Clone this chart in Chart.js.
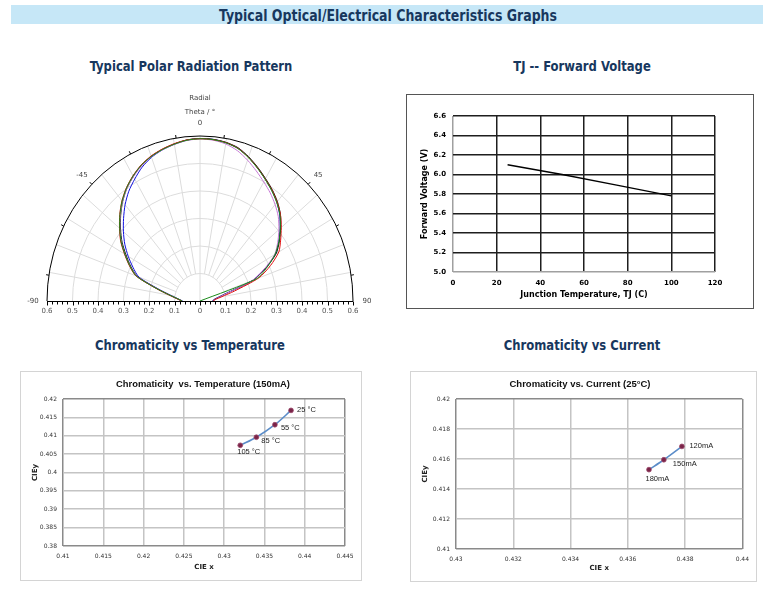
<!DOCTYPE html>
<html><head><meta charset="utf-8">
<script src="https://cdn.jsdelivr.net/npm/chart.js@4.4.1/dist/chart.umd.min.js"></script>
<style>
body{margin:0;width:779px;height:591px;background:#fff;position:relative;overflow:hidden;}
.bar{position:absolute;left:11px;top:5px;width:752px;height:19px;background:#c6e7f7;}
.hd{position:absolute;color:#17375e;font-family:"DejaVu Sans Condensed","Liberation Sans",sans-serif;font-weight:bold;white-space:nowrap;transform:translate(-50%,-50%) scaleX(0.89);}
.box{position:absolute;box-sizing:border-box;}
canvas{position:absolute;}
</style></head><body>
<div class="bar"></div>
<div class="hd" style="left:388px;top:15px;font-size:16px;transform:translate(-50%,-50%) scaleX(0.87);">Typical Optical/Electrical Characteristics Graphs</div>
<div class="hd" style="left:191px;top:66px;font-size:14.5px;">Typical Polar Radiation Pattern</div>
<div class="hd" style="left:582px;top:66px;font-size:14.5px;">TJ -- Forward Voltage</div>
<div class="hd" style="left:190px;top:345px;font-size:14.5px;">Chromaticity vs Temperature</div>
<div class="hd" style="left:582px;top:345px;font-size:14.5px;">Chromaticity vs Current</div>

<div class="box" style="left:406px;top:94px;width:348px;height:215px;border:1px solid #555;"></div>
<div class="box" style="left:20px;top:371px;width:342px;height:210px;border:1px solid #d4d4d4;"></div>
<div class="box" style="left:410px;top:371px;width:347px;height:211px;border:1px solid #d4d4d4;"></div>

<canvas id="polar" width="400" height="245" style="left:0;top:80px;"></canvas>
<canvas id="fv" width="346" height="213" style="left:407px;top:95px;"></canvas>
<canvas id="ct" width="340" height="208" style="left:21px;top:372px;"></canvas>
<canvas id="cc" width="345" height="209" style="left:411px;top:372px;"></canvas>

<script>
// ---------- Polar radiation pattern data (theta in degrees, relative radial intensity) ----------
const polarTheta = [-90,-85,-80,-75,-70,-65,-60,-55,-50,-45,-40,-35,-30,-25,-20,-15,-10,-5,0,5,10,15,20,25,30,35,40,45,50,55,60,65,70,75,80,85,90];
const polarBlack  = [0.072,0.088,0.118,0.175,0.262,0.300,0.335,0.373,0.407,0.440,0.472,0.500,0.523,0.544,0.560,0.571,0.580,0.588,0.591,0.590,0.586,0.577,0.558,0.536,0.514,0.494,0.472,0.446,0.413,0.380,0.345,0.285,0.222,0.108,0.072,0.055,0.050];
const polarRed    = [0.070,0.090,0.122,0.180,0.268,0.306,0.342,0.380,0.412,0.445,0.476,0.503,0.526,0.546,0.561,0.572,0.581,0.588,0.590,0.589,0.585,0.575,0.556,0.534,0.512,0.492,0.470,0.446,0.416,0.386,0.357,0.305,0.245,0.140,0.085,0.060,0.052];
const polarGreen  = [0.070,0.087,0.120,0.178,0.266,0.304,0.340,0.378,0.411,0.444,0.475,0.502,0.525,0.545,0.559,0.570,0.579,0.587,0.590,0.589,0.584,0.574,0.555,0.533,0.511,0.490,0.468,0.443,0.411,0.378,0.340,0.290,0.235,0,null,null,null];
const polarBlue   = [0.068,0.085,0.115,0.170,0.255,0.290,0.325,0.360,0.392,0.424,0.457,0.487,0.512,0.537,0.556,0.569,0.579,0.587,0.591,0.590,0.585,0.575,0.556,0.534,0.512,0.491,0.469,0.442,0.410,0.377,0.342,0.283,0.220,0.106,0.070,0.054,0.050];
const polarViolet = [0.074,0.090,0.120,0.177,0.264,0.304,0.340,0.377,0.410,0.442,0.473,0.500,0.522,0.542,0.558,0.569,0.578,0.586,0.589,0.587,0.580,0.566,0.545,0.522,0.500,0.480,0.458,0.434,0.404,0.372,0.338,0.280,0.218,0.110,0.075,0.058,0.052];
const polarRings = [0.1,0.2,0.3,0.4,0.5];
const polarSpokes = [-80,-70,-60,-50,-40,-30,-20,-10,0,10,20,30,40,50,60,70,80];
const polarArcTicks = [-81,-63,-45,-27,-9,9,27,45,63,81];
const polarRadialTicks = [-0.6,-0.5,-0.4,-0.3,-0.2,-0.1,0,0.1,0.2,0.3,0.4,0.5,0.6];
const polarAngleLabels = [-90,-45,0,45,90];

// ---------- Forward voltage vs junction temperature ----------
const fvTemp = [25,50,75,100];
const fvVolt = [6.10,6.00,5.89,5.78];
const fvXTicks = [0,20,40,60,80,100,120];
const fvYTicks = [5.0,5.2,5.4,5.6,5.8,6.0,6.2,6.4,6.6];

// ---------- Chromaticity vs temperature (150mA) ----------
const ctLabels = ['25 °C','55 °C','85 °C','105 °C'];
const ctCieX = [0.4383,0.4363,0.4340,0.4320];
const ctCieY = [0.4169,0.4130,0.4096,0.4074];
const ctXTicks = [0.41,0.415,0.42,0.425,0.43,0.435,0.44,0.445];
const ctYTicks = [0.38,0.385,0.39,0.395,0.4,0.405,0.41,0.415,0.42];

// ---------- Chromaticity vs current (25°C) ----------
const ccLabels = ['120mA','150mA','180mA'];
const ccCieX = [0.43789,0.43726,0.43674];
const ccCieY = [0.41684,0.41595,0.41529];
const ccXTicks = [0.43,0.432,0.434,0.436,0.438,0.44];
const ccYTicks = [0.41,0.412,0.414,0.416,0.418,0.42];

Chart.defaults.animation = false;
Chart.defaults.font.family = '"DejaVu Sans", sans-serif';

// ===== Polar =====
function polarPoints(arr){
  return polarTheta.map((t,i)=>{
    const r = arr[i];
    if(r===null) return null;
    const a = t*Math.PI/180;
    return {x:r*Math.sin(a), y:r*Math.cos(a)};
  }).filter(p=>p!==null);
}
const polarGridPlugin = {
  id:'polarGrid',
  beforeDatasetsDraw(chart){
    const {ctx, scales:{x,y}} = chart;
    const cx = x.getPixelForValue(0), cy = y.getPixelForValue(0);
    const rx = r => x.getPixelForValue(r)-cx;
    const ry = r => cy-y.getPixelForValue(r);
    const pt = (deg,r)=>{const a=deg*Math.PI/180;return [x.getPixelForValue(r*Math.sin(a)), y.getPixelForValue(r*Math.cos(a))];};
    ctx.save();
    ctx.lineWidth = 1; ctx.strokeStyle = '#dcdcdc';
    polarRings.forEach(r=>{ctx.beginPath();ctx.ellipse(cx,cy,rx(r),ry(r),0,Math.PI,2*Math.PI);ctx.stroke();});
    polarSpokes.forEach(d=>{
      const a = pt(d, d===0?0:0.1), b = pt(d,0.6);
      ctx.beginPath();ctx.moveTo(a[0],a[1]);ctx.lineTo(b[0],b[1]);ctx.stroke();
    });
    // outer arc
    ctx.strokeStyle = '#000'; ctx.lineWidth = 1;
    ctx.beginPath();ctx.ellipse(cx,cy,rx(0.6),ry(0.6),0,Math.PI,2*Math.PI);ctx.stroke();
    polarArcTicks.forEach(d=>{
      const a = pt(d,0.6), b = pt(d,0.611);
      ctx.beginPath();ctx.moveTo(a[0],a[1]);ctx.lineTo(b[0],b[1]);ctx.stroke();
    });
    // baseline
    const y0 = Math.round(cy)+0.5;
    ctx.beginPath();ctx.moveTo(x.getPixelForValue(-0.6),y0);ctx.lineTo(x.getPixelForValue(0.6),y0);ctx.stroke();
    for(let k=-30;k<=30;k++){
      const v = k*0.02, px = Math.round(x.getPixelForValue(v))+0.5;
      const len = (k%5===0)?4:3;
      ctx.beginPath();ctx.moveTo(px,y0);ctx.lineTo(px,y0+len);ctx.stroke();
    }
    ctx.fillStyle = '#555'; ctx.font = '7px "DejaVu Sans"'; ctx.textAlign='center'; ctx.textBaseline='middle';
    polarRadialTicks.forEach(v=>{
      ctx.fillText(String(Math.abs(v)), x.getPixelForValue(v), y0+10);
    });
    ctx.fillStyle = '#444';
    polarAngleLabels.forEach(d=>{
      const p = pt(d,0.655);
      ctx.fillText(String(d), p[0], p[1]+(Math.abs(d)===90?0:2));
    });
    const top = pt(0,0.6);
    ctx.fillText('Theta / °', top[0], top[1]-24);
    ctx.fillText('Radial', top[0], top[1]-38);
    ctx.restore();
  }
};
new Chart(document.getElementById('polar'),{
  type:'scatter',
  data:{datasets:[
    {data:polarPoints(polarGreen), borderColor:'#1a8a1a'},
    {data:polarPoints(polarRed), borderColor:'#e01010'},
    {data:polarPoints(polarViolet), borderColor:'#c77ad6'},
    {data:polarPoints(polarBlack), borderColor:'#101010'},
    {data:polarPoints(polarBlue), borderColor:'#1010e0'}
  ].map(d=>Object.assign(d,{showLine:true,pointRadius:0,borderWidth:1,tension:0.25,fill:false}))},
  options:{
    responsive:false,
    layout:{padding:{left:47,right:47,top:56,bottom:24}},
    plugins:{legend:{display:false},tooltip:{enabled:false}},
    scales:{
      x:{type:'linear',min:-0.6,max:0.6,display:false},
      y:{type:'linear',min:0,max:0.6,display:false}
    }
  },
  plugins:[polarGridPlugin]
});

// ===== Forward voltage =====
function setTicks(arr){return function(scale){scale.ticks = arr.map(v=>({value:v}));};}
new Chart(document.getElementById('fv'),{
  type:'scatter',
  data:{datasets:[{data:fvTemp.map((t,i)=>({x:t,y:fvVolt[i]})),showLine:true,pointRadius:0,borderColor:'#000',borderWidth:1.3,tension:0}]},
  options:{
    responsive:false,
    layout:{padding:{left:0,right:38,top:21,bottom:0}},
    plugins:{legend:{display:false},tooltip:{enabled:false}},
    scales:{
      x:{type:'linear',min:0,max:120,afterBuildTicks:setTicks(fvXTicks),
         afterFit(s){s.height=36;},
         border:{display:false},
         grid:{drawTicks:false,lineWidth:1.5,color:c=>c.tick&&c.tick.value===0?'#a0a0a0':'#1e1e1e'},
         ticks:{padding:7,color:'#000',font:{size:7,weight:'bold'},maxRotation:0},
         title:{display:true,text:'Junction Temperature, TJ (C)',color:'#000',font:{size:8,weight:'bold'},padding:{top:0,bottom:8}}},
      y:{type:'linear',min:5.0,max:6.6,afterBuildTicks:setTicks(fvYTicks),
         afterFit(s){s.width=46;},
         border:{display:false},
         grid:{drawTicks:false,lineWidth:1.5,color:c=>c.tick&&Math.abs(c.tick.value-5)<1e-6?'#a0a0a0':'#1e1e1e'},
         ticks:{padding:7,color:'#000',font:{size:7,weight:'bold'},callback:v=>v.toFixed(1)},
         title:{display:true,text:'Forward Voltage (V)',color:'#000',font:{size:8,weight:'bold'},padding:{top:13,bottom:0}}}
    }
  }
});

// ===== Chromaticity charts =====
const pointLabelPlugin = {
  id:'pointLabels',
  afterDatasetsDraw(chart,args,opts){
    const ctx = chart.ctx, meta = chart.getDatasetMeta(0);
    ctx.save();
    ctx.font = opts.font; ctx.fillStyle = opts.color; ctx.textBaseline='middle'; ctx.textAlign='left';
    meta.data.forEach((el,i)=>{
      const o = opts.offsets[i];
      ctx.fillText(opts.labels[i], el.x+o[0], el.y+o[1]);
    });
    ctx.restore();
  }
};
function fmt(v){return String(Number(v.toFixed(4)));}
function chromaChart(id, xs, ys, labels, xt, yt, offsets, title, lay){
  const xmin = xt[0], xmax = xt[xt.length-1], ymin = yt[0], ymax = yt[yt.length-1];
  const edge = (v,a,b)=>Math.abs(v-a)<1e-9||Math.abs(v-b)<1e-9;
  return new Chart(document.getElementById(id),{
    type:'scatter',
    data:{datasets:[{data:xs.map((x,i)=>({x:x,y:ys[i]})),showLine:true,borderColor:'#5b8dc9',borderWidth:1.6,
      pointRadius:2.4,pointBackgroundColor:'#7a2448',pointBorderColor:'#9c4a6c',pointBorderWidth:0.8,tension:0.3}]},
    options:{
      responsive:false,
      layout:{padding:{left:0,right:lay.padRight,top:lay.padTop,bottom:0}},
      plugins:{legend:{display:false},tooltip:{enabled:false},
        title:{display:false},
        pointLabels:{labels:labels,offsets:offsets,font:'7.5px "Liberation Sans",sans-serif',color:'#222'}},
      scales:{
        x:{type:'linear',min:xmin,max:xmax,afterBuildTicks:setTicks(xt),afterFit(s){s.height=lay.xh;},
           border:{display:false},
           grid:{drawTicks:false,lineWidth:1.5,color:c=>c.tick&&edge(c.tick.value,xmin,xmax)?'#8a8a8a':'#c4c4c4'},
           ticks:{padding:7,color:'#333',font:{size:6},maxRotation:0,callback:fmt},
           title:{display:true,text:'CIE x',color:'#222',font:{size:7,weight:'bold'},padding:{top:0,bottom:lay.xtp}}},
        y:{type:'linear',min:ymin,max:ymax,afterBuildTicks:setTicks(yt),afterFit(s){s.width=lay.yw;},
           border:{display:false},
           grid:{drawTicks:false,lineWidth:1.5,color:c=>c.tick&&edge(c.tick.value,ymin,ymax)?'#8a8a8a':'#c4c4c4'},
           ticks:{padding:6,color:'#333',font:{size:6},callback:fmt},
           title:{display:true,text:'CIEy',color:'#222',font:{size:7,weight:'bold'},padding:{top:lay.ytp,bottom:0}}}
      }
    },
    plugins:[pointLabelPlugin,{
      id:'ttl',
      afterDraw(chart){
        const ctx = chart.ctx; ctx.save();
        ctx.font = 'bold '+lay.tsize+'px "Liberation Sans",sans-serif';
        ctx.fillStyle='#111'; ctx.textAlign='center'; ctx.textBaseline='middle';
        ctx.fillText(title, lay.cx, lay.cy);
        ctx.restore();
      }
    }]
  });
}
chromaChart('ct', ctCieX, ctCieY, ctLabels, ctXTicks, ctYTicks,
  [[6,0],[6,3],[5,3.5],[-3,7]],
  'Chromaticity  vs. Temperature (150mA)',
  {padRight:16,padTop:27,xh:34,yw:42,xtp:9,ytp:10,cx:182,cy:12,tsize:9.4});
chromaChart('cc', ccCieX, ccCieY, ccLabels, ccXTicks, ccYTicks,
  [[7.5,-0.5],[9,4],[-3.5,9.5]],
  'Chromaticity vs. Current (25°C)',
  {padRight:12,padTop:27,xh:32,yw:45,xtp:9,ytp:10,cx:169,cy:12,tsize:9.5});
</script>
</body></html>
